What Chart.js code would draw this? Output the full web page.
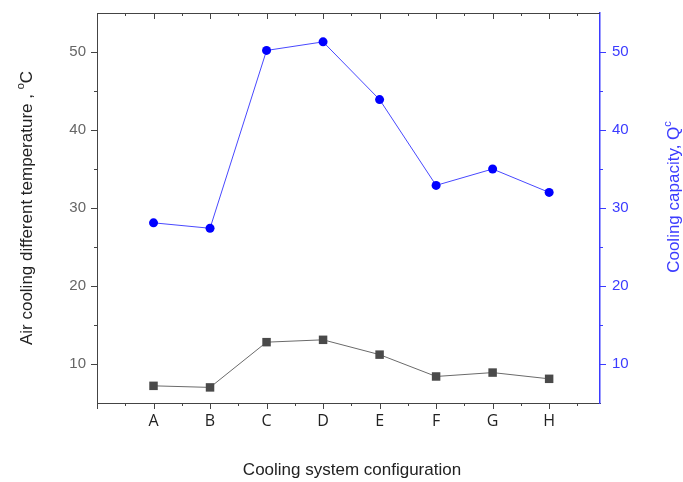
<!DOCTYPE html>
<html>
<head>
<meta charset="utf-8">
<script src="https://cdn.jsdelivr.net/npm/chart.js@4.4.1/dist/chart.umd.min.js"></script>
<style>
  html, body { margin: 0; padding: 0; background: #fff; }
  #wrap { width: 683px; height: 482px; }
</style>
</head>
<body>
<div id="wrap"><canvas id="myChart" width="683" height="482"></canvas></div>
<script>
const categories = ['A', 'B', 'C', 'D', 'E', 'F', 'G', 'H'];
const tempDiff = [7.2, 7.0, 12.8, 13.1, 11.2, 8.4, 8.9, 8.1];
const coolingCap = [28.1, 27.4, 50.2, 51.3, 43.9, 32.9, 35.0, 32.0];
const yTicks = [10, 20, 30, 40, 50];

const blue = '#3b3bff';

// ticks + top border + titles drawn by hand (Origin style)
const originStyle = {
  id: 'originStyle',
  afterDraw(chart) {
    const ctx = chart.ctx;
    const a = chart.chartArea;
    const x = chart.scales.x, y = chart.scales.y, y1 = chart.scales.y1;
    ctx.save();
    ctx.lineWidth = 1;

    // top border
    ctx.strokeStyle = '#444';
    ctx.beginPath();
    ctx.moveTo(a.left, a.top + 0.5);
    ctx.lineTo(a.right, a.top + 0.5);
    ctx.stroke();

    // x ticks, bottom outward and top inward
    for (let v = -1; v <= 7.5; v += 0.5) {
      const px = Math.round(x.getPixelForValue(v)) + 0.5;
      const len = Number.isInteger(v) ? 6 : 3;
      ctx.beginPath();
      ctx.moveTo(px, a.bottom);
      ctx.lineTo(px, a.bottom + len);
      ctx.moveTo(px, a.top);
      ctx.lineTo(px, a.top + len);
      ctx.stroke();
    }

    // left ticks
    for (let v = 10; v <= 50; v += 5) {
      const py = Math.round(y.getPixelForValue(v)) + 0.5;
      const len = v % 10 === 0 ? 6 : 3;
      ctx.beginPath();
      ctx.moveTo(a.left, py);
      ctx.lineTo(a.left - len, py);
      ctx.stroke();
    }

    // right ticks
    ctx.strokeStyle = blue;
    for (let v = 10; v <= 50; v += 5) {
      const py = Math.round(y1.getPixelForValue(v)) + 0.5;
      const len = v % 10 === 0 ? 6 : 3;
      ctx.beginPath();
      ctx.moveTo(a.right, py);
      ctx.lineTo(a.right + len, py);
      ctx.stroke();
    }

    // x title
    ctx.fillStyle = '#222';
    ctx.font = '17px "Liberation Sans", Arial, sans-serif';
    ctx.textAlign = 'center';
    ctx.textBaseline = 'alphabetic';
    ctx.fillText('Cooling system configuration', 352, 475);

    // left title
    drawVertical(ctx, 'Air cooling different temperature , ', 'o', 'C', 32, 208, '#222');
    // right title
    drawVertical(ctx, 'Cooling capacity, Q', 'c', '', 679, 197, blue);

    ctx.restore();
  }
};

function drawVertical(ctx, main, sup, tail, bx, cy, color) {
  ctx.save();
  ctx.translate(bx, cy);
  ctx.rotate(-Math.PI / 2);
  ctx.fillStyle = color;
  ctx.textAlign = 'left';
  ctx.textBaseline = 'alphabetic';
  const f = '17px "Liberation Sans", Arial, sans-serif';
  const fs = '11px "Liberation Sans", Arial, sans-serif';
  ctx.font = f;
  const w1 = ctx.measureText(main).width;
  const w3 = ctx.measureText(tail).width;
  ctx.font = fs;
  const w2 = ctx.measureText(sup).width;
  let x0 = -(w1 + w2 + w3) / 2;
  ctx.font = f;
  ctx.fillText(main, x0, 0);
  ctx.font = fs;
  ctx.fillText(sup, x0 + w1, -8);
  ctx.font = f;
  ctx.fillText(tail, x0 + w1 + w2, 0);
  ctx.restore();
}

function fitY(width) {
  return (s) => {
    s.width = width;
    s.paddingTop = 0;
    s.paddingBottom = 0;
  };
}

const ctx = document.getElementById('myChart').getContext('2d');
const myChart = new Chart(ctx, {
  type: 'line',
  data: {
    datasets: [
      {
        label: 'Air cooling different temperature',
        data: tempDiff.map((v, i) => ({ x: i, y: v })),
        yAxisID: 'y',
        borderColor: '#6a6a6a',
        borderWidth: 1,
        pointStyle: 'rect',
        pointRadius: 6,
        pointBorderWidth: 0,
        pointBackgroundColor: '#4a4a4a',
      },
      {
        label: 'Cooling capacity',
        data: coolingCap.map((v, i) => ({ x: i, y: v })),
        yAxisID: 'y1',
        borderColor: '#4848ff',
        borderWidth: 1,
        pointStyle: 'circle',
        pointRadius: 4.5,
        pointBorderWidth: 0,
        pointBackgroundColor: '#0000ff',
      },
    ],
  },
  options: {
    responsive: false,
    animation: false,
    layout: { padding: { top: 13, left: 0, right: 0, bottom: 0 } },
    plugins: {
      legend: { display: false },
      tooltip: { enabled: false },
    },
    scales: {
      x: {
        type: 'linear',
        min: -1,
        max: 7.9,
        afterFit: (s) => { s.height = 79; s.paddingLeft = 0; s.paddingRight = 0; },
        grid: { display: false, drawTicks: false },
        border: { color: '#444', width: 1 },
        ticks: {
          stepSize: 1,
          autoSkip: false,
          maxRotation: 0,
          padding: 9,
          color: '#222',
          font: { family: '"Open Sans", sans-serif', size: 16 },
          callback: function (value) {
            return Number.isInteger(value) && value >= 0 && value < categories.length ? categories[value] : '';
          },
        },
      },
      y: {
        position: 'left',
        min: 5,
        max: 55,
        afterFit: fitY(97),
        afterBuildTicks: (s) => { s.ticks = yTicks.map((v) => ({ value: v })); },
        grid: { display: false, drawTicks: false },
        border: { color: '#444', width: 1 },
        ticks: {
          padding: 11,
          color: '#666',
          font: { family: '"Liberation Sans", Arial, sans-serif', size: 15 },
        },
      },
      y1: {
        position: 'right',
        min: 5,
        max: 55,
        afterFit: fitY(83),
        afterBuildTicks: (s) => { s.ticks = yTicks.map((v) => ({ value: v })); },
        grid: { display: false, drawTicks: false },
        border: { color: blue, width: 1.5 },
        ticks: {
          padding: 12,
          color: blue,
          font: { family: '"Liberation Sans", Arial, sans-serif', size: 15 },
        },
      },
    },
  },
  plugins: [originStyle],
});
</script>
</body>
</html>
